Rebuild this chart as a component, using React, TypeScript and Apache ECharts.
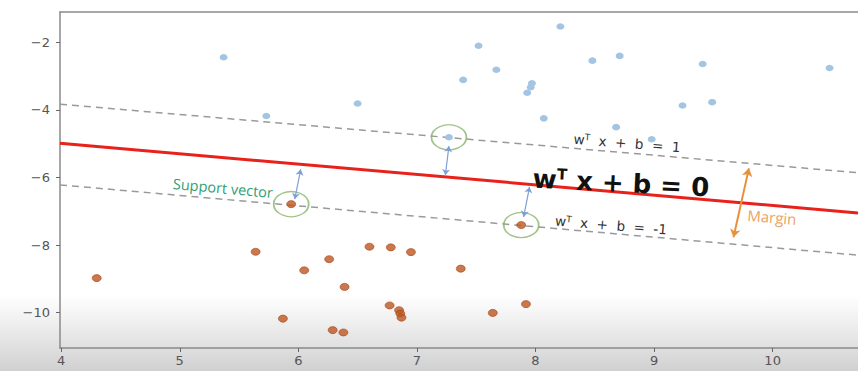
import React, { useEffect, useRef } from "react";
import * as echarts from "echarts";

// Axis ranges and ticks
const xRange = [3.99, 10.72];
const yRange = [-11.05, -1.1];
const xTicks = [4, 5, 6, 7, 8, 9, 10];
const yTicks = [-10, -8, -6, -4, -2];

// Class +1 (blue) points
const blueX = [5.37, 5.73, 6.5, 7.27, 7.39, 7.52, 7.67, 7.97, 7.96, 7.93, 8.07, 8.21, 8.48, 8.68, 8.71, 8.98, 9.24, 9.41, 9.49, 10.48];
const blueY = [-2.44, -4.18, -3.81, -4.81, -3.11, -2.1, -2.81, -3.21, -3.33, -3.49, -4.25, -1.53, -2.54, -4.51, -2.4, -4.87, -3.87, -2.64, -3.77, -2.76];

// Class -1 (orange) points
const orangeX = [4.3, 5.64, 5.87, 5.94, 6.05, 6.26, 6.29, 6.38, 6.39, 6.6, 6.78, 6.77, 6.85, 6.86, 6.87, 6.95, 7.37, 7.64, 7.88, 7.92];
const orangeY = [-8.98, -8.2, -10.18, -6.79, -8.75, -8.42, -10.52, -10.59, -9.24, -8.05, -8.07, -9.79, -9.93, -10.03, -10.15, -8.21, -8.7, -10.01, -7.41, -9.75];

// Support vectors
const svX = [7.27, 5.94, 7.88];
const svY = [-4.81, -6.79, -7.41];

// Hyperplane and margins (values at the two x-range ends)
const lineX = [3.99, 10.72];
const hyperY = [-4.99, -7.05];
const upperY = [-3.83, -5.86];
const lowerY = [-6.22, -8.3];

// Distance arrows: [x1, y1, x2, y2]
const svArrows = [
  [7.27, -5.07, 7.24, -5.93],
  [7.9, -7.17, 7.95, -6.28],
  [5.97, -6.64, 6.02, -5.76],
];
const marginArrow = [9.8, -5.73, 9.67, -7.77];

const zip = (a: number[], b: number[]) => a.map((v, i) => [v, b[i]]);

export default function App() {
  const ref = useRef<HTMLDivElement>(null);
  useEffect(() => {
    if (!ref.current) return;
    const chart = echarts.init(ref.current, undefined, { renderer: "svg" });
    const labelFont = { fontFamily: "DejaVu Sans", fontSize: 13, color: "#555" };
    const fmt = (v: number) => (v < 0 ? "\u2212" + Math.abs(v) : String(v));
    const smallRich = {
      a: { fontFamily: "DejaVu Sans", fontSize: 13.5, fill: "#333", verticalAlign: "bottom" },
      s: { fontFamily: "DejaVu Sans", fontSize: 9, fill: "#333", verticalAlign: "top" },
    };
    chart.setOption({
      animation: false,
      backgroundColor: "#ffffff",
      grid: { left: 60, right: 0, top: 12, bottom: 23 },
      xAxis: [
        {
          type: "value",
          min: xRange[0],
          max: xRange[1],
          position: "bottom",
          axisLine: { show: true, lineStyle: { color: "#8a8a8a", width: 1.5 } },
          axisTick: { show: true, length: 4, customValues: xTicks, lineStyle: { color: "#666" } },
          axisLabel: { show: true, customValues: xTicks, margin: 6, formatter: fmt, ...labelFont },
          splitLine: { show: false },
        },
        {
          type: "value",
          min: xRange[0],
          max: xRange[1],
          position: "top",
          axisLine: { show: true, lineStyle: { color: "#8a8a8a", width: 1.5 } },
          axisTick: { show: false },
          axisLabel: { show: false },
          splitLine: { show: false },
        },
      ],
      yAxis: {
        type: "value",
        min: yRange[0],
        max: yRange[1],
        axisLine: { show: true, lineStyle: { color: "#8a8a8a", width: 1.5 } },
        axisTick: { show: true, length: 4, customValues: yTicks, lineStyle: { color: "#666" } },
        axisLabel: { show: true, customValues: yTicks, margin: 10, formatter: fmt, ...labelFont },
        splitLine: { show: false },
      },
      series: [
        {
          type: "line",
          data: zip(lineX, upperY),
          symbol: "none",
          lineStyle: { color: "#9a9a9a", width: 1.5, type: [7, 5] },
          z: 1,
        },
        {
          type: "line",
          data: zip(lineX, lowerY),
          symbol: "none",
          lineStyle: { color: "#9a9a9a", width: 1.5, type: [7, 5] },
          z: 1,
        },
        {
          type: "line",
          data: zip(lineX, hyperY),
          symbol: "none",
          lineStyle: { color: "#e8221b", width: 3 },
          z: 2,
        },
        {
          type: "scatter",
          data: zip(blueX, blueY),
          symbol: "circle",
          symbolSize: [8, 6.5],
          itemStyle: { color: "#a3c4e2", opacity: 1 },
          z: 3,
        },
        {
          type: "scatter",
          data: zip(orangeX, orangeY),
          symbol: "circle",
          symbolSize: [9, 7],
          itemStyle: { color: "#bb5821", borderColor: "#a9481a", borderWidth: 0.8 },
          z: 3,
        },
        {
          type: "scatter",
          data: zip(svX, svY),
          symbol: "circle",
          symbolSize: [35, 25],
          itemStyle: { color: "rgba(0,0,0,0)", borderColor: "#8ab46a", borderWidth: 1.5 },
          z: 4,
        },
        {
          type: "lines",
          coordinateSystem: "cartesian2d",
          data: svArrows.map((a) => ({ coords: [[a[0], a[1]], [a[2], a[3]]] })),
          symbol: ["arrow", "arrow"],
          symbolSize: 6,
          lineStyle: { color: "#7f9fd6", width: 1.2, opacity: 1 },
          z: 5,
        },
        {
          type: "lines",
          coordinateSystem: "cartesian2d",
          data: [{ coords: [[marginArrow[0], marginArrow[1]], [marginArrow[2], marginArrow[3]]] }],
          symbol: ["arrow", "arrow"],
          symbolSize: 8,
          lineStyle: { color: "#e8913c", width: 2, opacity: 1 },
          z: 5,
        },
      ],
      graphic: [
        {
          type: "rect",
          left: 0,
          top: 295,
          shape: { width: 858, height: 76 },
          style: {
            fill: new echarts.graphic.LinearGradient(0, 0, 0, 1, [
              { offset: 0, color: "rgba(212,212,212,0)" },
              { offset: 1, color: "rgba(208,208,208,1)" },
            ]),
          },
          z: -10,
          silent: true,
        },
        {
          type: "text",
          x: 223,
          y: 188,
          rotation: -0.09,
          style: {
            text: "Support vector",
            font: "14.5px 'Open Sans'",
            fill: "#2f9f78",
            align: "center",
            verticalAlign: "middle",
          },
          z: 10,
        },
        {
          type: "text",
          x: 627,
          y: 143,
          rotation: -0.08,
          style: {
            text: "{a|w}{s|T}{a|  x  +  b  =  1}",
            align: "center",
            verticalAlign: "middle",
            rich: smallRich,
          },
          z: 10,
        },
        {
          type: "text",
          x: 611,
          y: 225,
          rotation: -0.08,
          style: {
            text: "{a|w}{s|T}{a|  x  +  b  =  -1}",
            align: "center",
            verticalAlign: "middle",
            rich: smallRich,
          },
          z: 10,
        },
        {
          type: "text",
          x: 621,
          y: 183,
          rotation: -0.05,
          style: {
            text: "{a|w}{s|T}{a| x + b = 0}",
            align: "center",
            verticalAlign: "middle",
            rich: {
              a: { fontFamily: "DejaVu Sans", fontWeight: "bold", fontSize: 26, fill: "#111", verticalAlign: "bottom" },
              s: { fontFamily: "DejaVu Sans", fontWeight: "bold", fontSize: 15, fill: "#111", verticalAlign: "top" },
            },
          },
          z: 10,
        },
        {
          type: "text",
          x: 772,
          y: 217,
          rotation: -0.08,
          style: {
            text: "Margin",
            font: "15px 'Open Sans'",
            fill: "#eda262",
            align: "center",
            verticalAlign: "middle",
          },
          z: 10,
        },
      ],
    });
    return () => chart.dispose();
  }, []);
  return (
    <div style={{ position: "fixed", left: 0, top: 0, width: 858, height: 371, overflow: "hidden", background: "#fff" }}>
      <div ref={ref} style={{ width: 858, height: 371 }} />
    </div>
  );
}
